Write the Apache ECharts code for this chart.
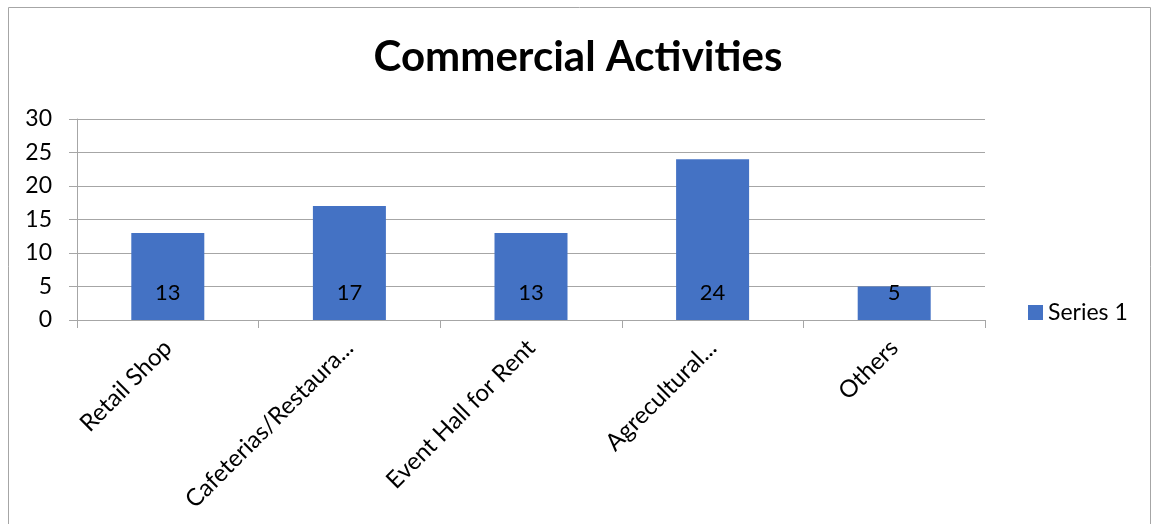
<!DOCTYPE html>
<html><head><meta charset="utf-8">
<script src="https://cdn.jsdelivr.net/npm/echarts@6/dist/echarts.min.js"></script>
<style>html,body{margin:0;padding:0;background:#fff}#c{width:1156px;height:524px}</style>
</head><body><div id="c"></div>
<script>
const categories = ["Retail Shop", "Cafeterias/Restaura...", "Event Hall for Rent", "Agrecultural...", "Others"];
const series1 = [13, 17, 13, 24, 5];
const seriesName = "Series 1";
const titleText = "Commercial Activities";
const FONT = "Lato, 'Open Sans', sans-serif";

const chart = echarts.init(document.getElementById('c'), null, {renderer: 'canvas'});
chart.setOption({
  animation: false,
  backgroundColor: '#fff',
  graphic: [{type: 'rect', shape: {x: 8.5, y: 7.5, width: 1142, height: 530}, style: {fill: 'none', stroke: '#a6a6a6', lineWidth: 1}, silent: true}],
  title: {text: titleText, left: 'center', top: 31, textStyle: {fontFamily: FONT, fontSize: 42, fontWeight: 'bold', color: '#000'}},
  legend: {data: [seriesName], left: 1023, top: 296, itemWidth: 15, itemHeight: 15, itemGap: 6,
    textStyle: {fontFamily: FONT, fontSize: 23, color: '#000'}, icon: 'rect'},
  grid: {left: 77, right: 171, top: 119, bottom: 204, containLabel: false},
  xAxis: {type: 'category', data: categories,
    axisLine: {lineStyle: {color: '#a6a6a6', width: 1}},
    axisTick: {show: true, alignWithLabel: false, length: 8, lineStyle: {color: '#a6a6a6'}},
    axisLabel: {rotate: 45, interval: 0, fontFamily: FONT, fontSize: 24, color: '#000', margin: 24}},
  yAxis: {type: 'value', min: 0, max: 30, interval: 5,
    axisLine: {show: true, lineStyle: {color: '#a6a6a6'}},
    axisTick: {show: true, length: 8, lineStyle: {color: '#a6a6a6'}},
    splitLine: {lineStyle: {color: '#a6a6a6'}},
    axisLabel: {fontFamily: FONT, fontSize: 23, color: '#000', margin: 25}},
  series: [{name: seriesName, type: 'bar', data: series1, barWidth: 73,
    itemStyle: {color: '#4472c4'},
    label: {show: true, position: 'insideBottom', distance: 16, fontFamily: FONT, fontSize: 22, color: '#000'}}]
});
</script></body></html>
